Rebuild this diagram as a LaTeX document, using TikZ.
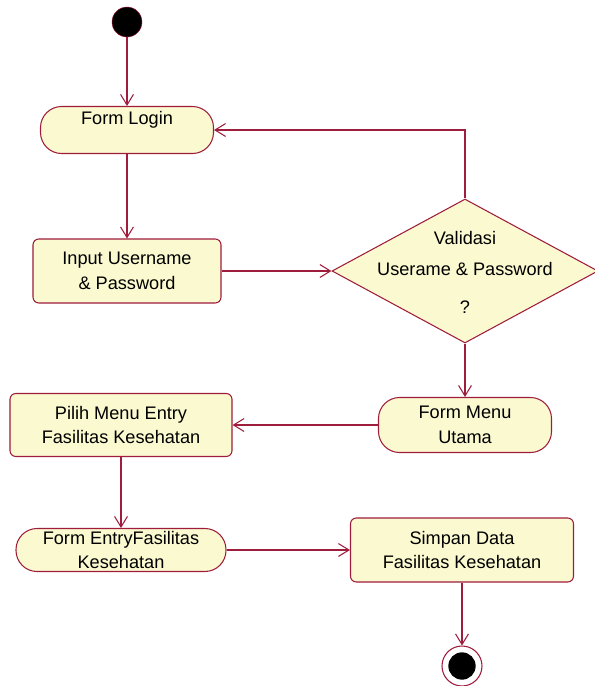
\documentclass[tikz,border=0pt]{standalone}
\usepackage{fontspec}
\setmainfont{Liberation Sans}
\usetikzlibrary{shapes.geometric}
\usetikzlibrary{arrows.meta}

\definecolor{umlline}{RGB}{158,28,60}
\definecolor{umlfill}{RGB}{251,249,208}

\tikzset{
  act/.style={rectangle, draw=umlline, fill=umlfill, line width=0.9pt,
    rounded corners=5pt, align=center, inner sep=0pt,
    font=\fontsize{15.5}{21}\selectfont},
  formact/.style={act, rounded corners=18pt},
  flow/.style={draw=umlline, line width=0.9pt,
    -{Straight Barb[length=9pt,width=11pt]}}
}

\begin{document}
\begin{tikzpicture}[x=0.03cm,y=-0.03cm]
        \useasboundingbox (0,0) rectangle (595,686);

        \node[circle, fill=black, draw=umlline, minimum size=0.9cm, inner sep=0pt] (start) at (127,22) {};

        \node[formact, minimum width=5.19cm, minimum height=1.41cm] (login) at (127,130) {Form Login\\\mbox{}};
        \node[act, minimum width=5.64cm, minimum height=1.92cm] (input) at (127,271) {Input Username\\\& Password};

        \node[diamond, draw=umlline, fill=umlfill, line width=0.9pt, inner sep=0pt,
            minimum width=7.98cm, minimum height=4.32cm] (valid) at (465,271) {};
        \node[align=center, font=\fontsize{15.5}{21}\selectfont] (validtext) at (465,272) {Validasi\\[6pt]Userame \& Password\\[11pt]?};

        \node[formact, minimum width=5.19cm, minimum height=1.65cm] (menu) at (465,425) {Form Menu\\Utama};
        \node[act, minimum width=6.66cm, minimum height=1.89cm] (pilih) at (121,425) {Pilih Menu Entry\\Fasilitas Kesehatan};

        \node[formact, minimum width=6.3cm, minimum height=1.29cm] (entry) at (121,550) {Form EntryFasilitas\\Kesehatan};
        \node[act, minimum width=6.69cm, minimum height=1.92cm] (simpan) at (462,550) {Simpan Data\\Fasilitas Kesehatan};

        \node[circle, draw=umlline, fill=white, line width=0.9pt, minimum size=1.2cm, inner sep=0pt] (end) at (462,666) {};
        \fill[black] (end.center) circle (0.41cm);

        % flows
        \draw[flow] (start) -- (login);
        \draw[flow] (login) -- (input);
        \draw[flow] (input) -- (valid);
        \draw[flow] (valid.north) |- (login.east);
        \draw[flow] (valid) -- (menu);
        \draw[flow] (menu) -- (pilih);
        \draw[flow] (pilih) -- (entry);
        \draw[flow] (entry) -- (simpan);
        \draw[flow] (simpan) -- (end);
    \end{tikzpicture}
\end{document}
